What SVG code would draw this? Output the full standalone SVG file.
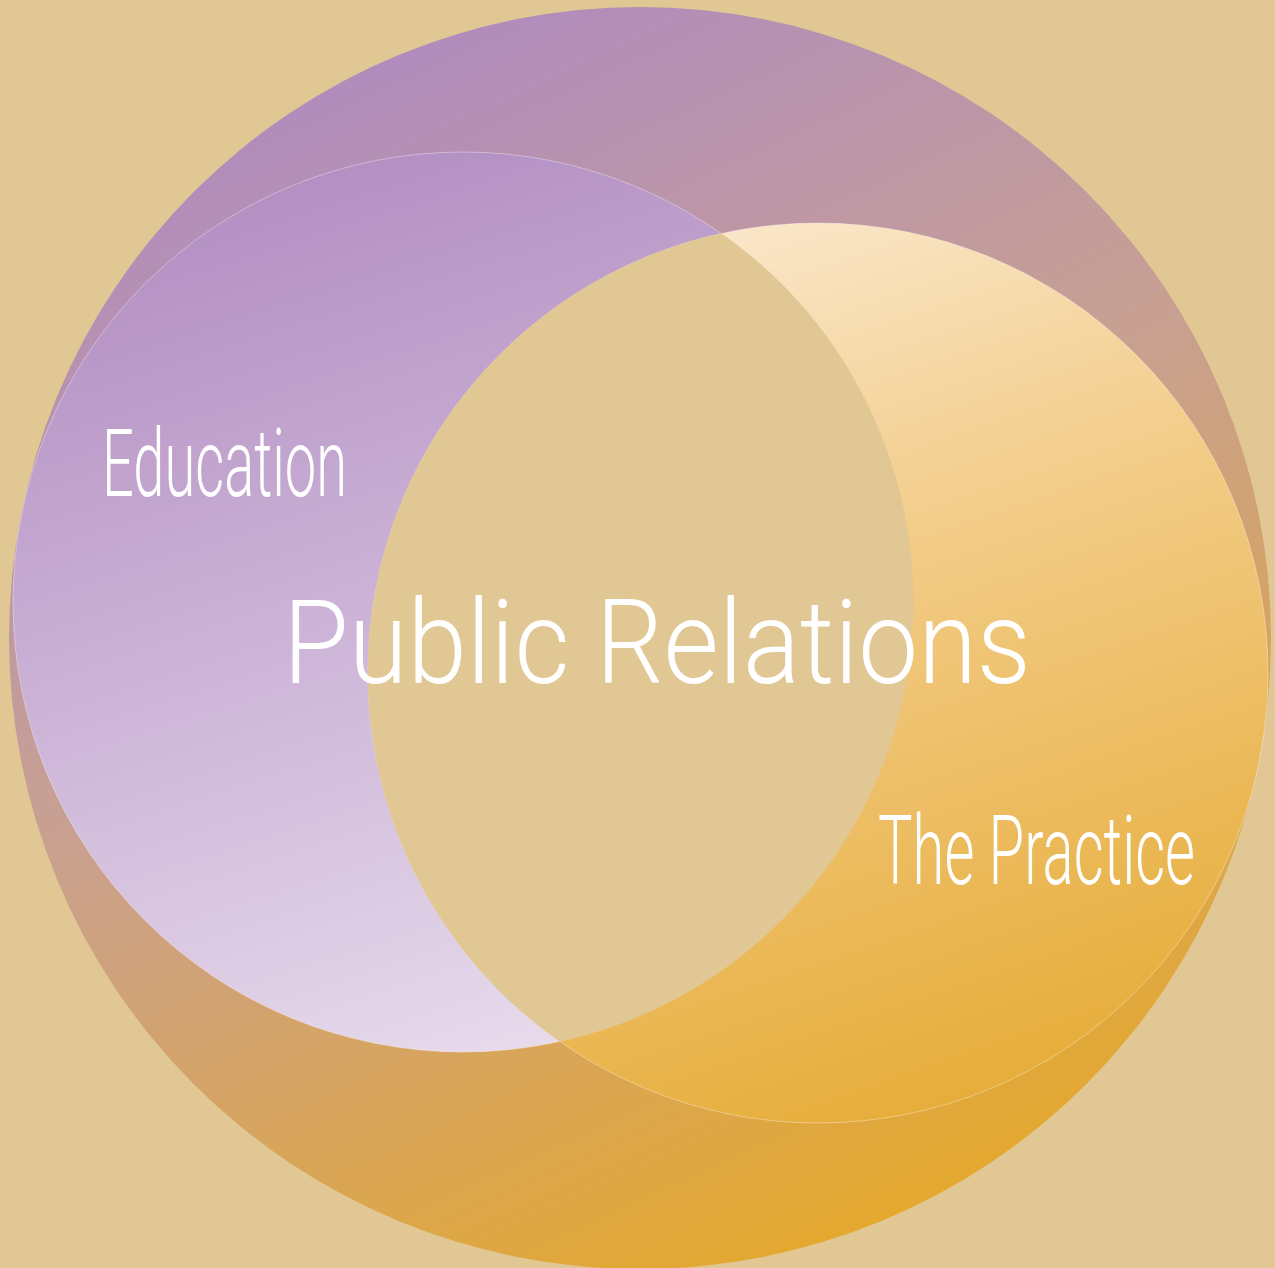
<svg xmlns="http://www.w3.org/2000/svg" width="1275" height="1268" viewBox="0 0 1275 1268">
<defs>
<linearGradient id="gBig" gradientUnits="userSpaceOnUse" x1="330" y1="20" x2="900" y2="1260">
<stop offset="0" stop-color="#AE8AC1"/>
<stop offset="0.45" stop-color="#C8A092"/>
<stop offset="1" stop-color="#E6A929"/>
</linearGradient>
<linearGradient id="gEdu" gradientUnits="userSpaceOnUse" x1="300" y1="170" x2="580" y2="1040">
<stop offset="0" stop-color="#B38FC3"/>
<stop offset="1" stop-color="#E7DBEC"/>
</linearGradient>
<linearGradient id="gPra" gradientUnits="userSpaceOnUse" x1="700" y1="230" x2="1000" y2="1110">
<stop offset="0" stop-color="#FAE7CA"/>
<stop offset="0.4" stop-color="#F2CB86"/>
<stop offset="1" stop-color="#E6AC37"/>
</linearGradient>
<style>
.edge{stroke:#ffffff;stroke-opacity:0.35;stroke-width:1}
.lbl{font-family:Roboto,"Liberation Sans",sans-serif;font-weight:300;fill:#ffffff}
</style>
</defs>
<rect width="1275" height="1268" fill="#E1C793"/>
<g id="outer"><circle cx="640" cy="638" r="631" fill="url(#gBig)"/></g>
<g id="education">
<circle class="edge" cx="463" cy="602" r="450" fill="url(#gEdu)"/>
<text class="lbl" x="102" y="496" font-size="95" textLength="245" lengthAdjust="spacingAndGlyphs">Education</text>
</g>
<g id="practice">
<circle class="edge" cx="818" cy="673" r="450" fill="url(#gPra)"/>
<path id="overlap" d="M721.3 233.3 A450 450 0 0 1 559.8 1041.7 A450 450 0 0 1 721.3 233.3 Z" fill="#E1C793"/>
<text class="lbl" x="878" y="884" font-size="96" textLength="317" lengthAdjust="spacingAndGlyphs">The Practice</text>
</g>
<g id="center">
<text class="lbl" x="283" y="683" font-size="116" textLength="748" lengthAdjust="spacingAndGlyphs">Public Relations</text>
</g>
<g id="connectors"/>
</svg>
